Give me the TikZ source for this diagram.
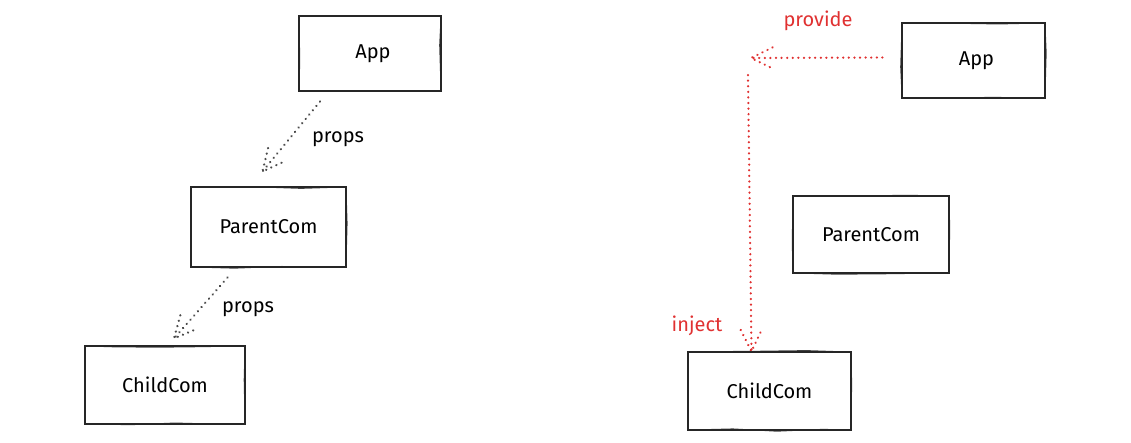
\documentclass[tikz,border=0pt]{standalone}
\usepackage{fontspec}
\setmainfont{Fira Sans}
\usetikzlibrary{decorations.pathmorphing,calc}
\definecolor{inkred}{HTML}{E03131}
\definecolor{inkgray}{HTML}{4A4A4A}
\tikzset{
  sketchbox/.style={draw=black!85, line width=1.1pt, minimum width=#1, inner sep=0pt,
    font=\fontsize{20}{24}\selectfont,
    preaction={draw=black!75, line width=0.8pt, decorate, decoration={random steps, segment length=45pt, amplitude=1.5pt}}},
  dotline/.style={line width=2.4pt, dash pattern=on 0.1pt off 5.5pt, line cap=round, line join=round},
  propsarrow/.style={dotline, draw=inkgray},
  redarrow/.style={dotline, draw=inkred},
  lbl/.style={font=\fontsize{20}{24}\selectfont, inner sep=0pt},
  redlbl/.style={lbl, text=inkred},
}
% dotted arrow with dotted open head: #1 style, #2 start, #3 end
\newcommand{\dotarrow}[3]{%
  \draw[#1] (#2) -- (#3);
  \draw[#1] ($(#3)!24pt!26:(#2)$) -- (#3) -- ($(#3)!24pt!-26:(#2)$);
}
\begin{document}
\begin{tikzpicture}[x=1pt, y=-1pt]
\useasboundingbox (0,0) rectangle (1131,443);
% left side
\node[sketchbox=142pt, minimum height=75pt] (appL) at (370,53.5) {\hspace*{6pt}App};
\node[sketchbox=155pt, minimum height=80pt] (parL) at (268.5,227) {ParentCom};
\node[sketchbox=160pt, minimum height=78pt] (chiL) at (165,385) {ChildCom};
% right side
\node[sketchbox=143pt, minimum height=75pt] (appR) at (973.5,60.5) {\hspace*{6pt}App};
\node[sketchbox=156pt, minimum height=77pt] (parR) at (871,234.5) {ParentCom};
\node[sketchbox=163pt, minimum height=78pt] (chiR) at (769.5,391) {ChildCom};
% connector end points
\coordinate (p1s) at ($(appL.south)+(-50,10)$);
\coordinate (p1e) at ($(parL.north)+(-6,-15)$);
\coordinate (p2s) at ($(parL.south)+(-41,10)$);
\coordinate (p2e) at ($(chiL.north)+(9,-7)$);
\coordinate (pvs) at ($(appR.west)+(-19,-3)$);
\coordinate (pve) at (751,58);
\coordinate (ijs) at (748,75);
\coordinate (ije) at ($(chiR.north)+(-18,0)$);
% connectors
\dotarrow{propsarrow}{p1s}{p1e}
\dotarrow{propsarrow}{p2s}{p2e}
\dotarrow{redarrow}{pvs}{pve}
\dotarrow{redarrow}{ijs}{ije}
% labels
\node[lbl] (lp1) at (338,139) {props};
\node[lbl] (lp2) at (248,309) {props};
\node[redlbl] (lpv) at (818,21) {provide};
\node[redlbl] (lij) at (697,326) {inject};
\end{tikzpicture}
\end{document}
